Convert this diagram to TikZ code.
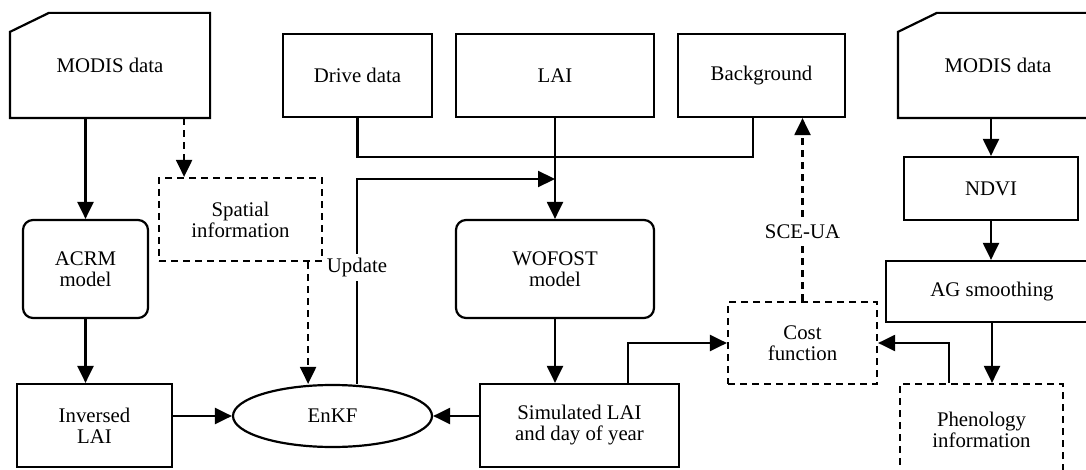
\documentclass[tikz,border=0pt]{standalone}
\usepackage{fontspec}
\setmainfont{Liberation Serif}
\usetikzlibrary{shapes.geometric, arrows.meta, positioning, calc}
\tikzset{
    box/.style={rectangle, draw, line width=1.1pt, inner sep=0pt, align=center, font=\fontsize{10.4}{10.5}\selectfont},
    arrow/.style={line width=1.1pt, -{Triangle[length=8.5pt, width=8pt]}}
}

\begin{document}
\begin{tikzpicture}[
    x=0.5pt, y=-0.5pt,
    databox/.style={box, draw=none, minimum width=99pt, minimum height=51.5pt},
    modelbox/.style={box, rounded corners=5pt},
    dashbox/.style={box, dash pattern=on 3.5pt off 2.5pt},
    dasharrow/.style={arrow, dash pattern=on 3.5pt off 2.5pt},
    filterbox/.style={ellipse, draw, line width=1.1pt, inner sep=0pt, minimum width=99.5pt, minimum height=31pt, font=\fontsize{10.4}{10.5}\selectfont},
    lbl/.style={fill=white, inner sep=2pt, font=\fontsize{10.4}{10.5}\selectfont}
]
    \clip (0,0) rectangle (1086,470);

    % MODIS inputs (cut-corner data boxes)
    \node (modisL) [databox] at (110,65.5) {MODIS data};
    \node (modisR) [databox] at (998,65.5) {MODIS data};
    \foreach \n in {modisL, modisR}
        \draw[line width=1.1pt] (\n.south west) -- ($(\n.north west)+(0,19)$) -- ($(\n.north west)+(39,0)$)
            -- (\n.north east) -- (\n.south east) -- cycle;

    % Crop model inputs
    \node (drive) [box, minimum width=74.5pt, minimum height=41.5pt] at (357.5,75.5) {Drive data};
    \node (lai) [box, minimum width=99pt, minimum height=41.5pt] at (555,75.5) {LAI};
    \node (background) [box, minimum width=83.5pt, minimum height=41.5pt] at (761.5,75.5) {Background};

    % Left branch: inversion
    \node (spatial) [dashbox, minimum width=81.5pt, minimum height=41.5pt] at (240.5,219.5) {Spatial\\information};
    \node (acrm) [modelbox, minimum width=62.5pt, minimum height=49pt] at (85.5,269) {ACRM\\model};
    \node (inversed) [box, minimum width=77.5pt, minimum height=41.5pt] at (94.5,425.5) {Inversed\\LAI};

    % Assimilation
    \node (enkf) [filterbox] at (332.5,416) {EnKF};
    \node (wofost) [modelbox, minimum width=99pt, minimum height=49pt] at (555,269) {WOFOST\\model};
    \node (simulated) [box, minimum width=99.5pt, minimum height=41.5pt] at (579.5,425.5) {Simulated LAI\\and day of year};
    \node (cost) [dashbox, minimum width=74.5pt, minimum height=41pt] at (802.5,343) {Cost\\function};

    % Right branch: phenology
    \node (ndvi) [box, minimum width=87pt, minimum height=31.5pt] at (991,188.5) {NDVI};
    \node (smoothing) [box, minimum width=106pt, minimum height=30.5pt] at (992,291.5) {AG smoothing};
    \node (phenology) [dashbox, minimum width=81.5pt, minimum height=46pt] at (981.5,430) {Phenology\\information};

    % helper points for the elbow lines
    \coordinate (bend) at (753,157);
    \coordinate (upd) at (357,179);

    % Flow arrows
    \draw [arrow] (acrm.north |- modisL.south) -- (acrm.north);
    \draw [dasharrow] ($(modisL.south east)+(-26,0)$) coordinate (sp) -- (sp |- spatial.north);
    \draw [arrow] (acrm.south) -- (acrm.south |- inversed.north);
    \draw [arrow] (enkf.west -| inversed.east) -- (enkf.west);
    \draw [dasharrow] ($(spatial.south east)+(-15,0)$) coordinate (se) -- (se |- enkf.north);

    \draw [line width=1.1pt] (drive.south) |- (bend) -- (bend |- background.south);
    \draw [arrow] (lai.south) -- (wofost.north);
    \draw [arrow] (upd |- enkf.north) -- node[lbl, pos=0.57] {Update} (upd) -- (upd -| lai.south);
    \draw [arrow] (wofost.south) -- (wofost.south |- simulated.north);
    \draw [arrow] (simulated.west |- enkf.east) -- (enkf.east);
    \draw [arrow] ($(simulated.north west)+(149,0)$) |- (cost.west);
    \draw [dasharrow] (cost.north) -- node[lbl, pos=0.38] {SCE-UA} (cost.north |- background.south);

    \draw [arrow] (ndvi.north |- modisR.south) -- (ndvi.north);
    \draw [arrow] (ndvi.south) -- (ndvi.south |- smoothing.north);
    \draw [arrow] (smoothing.south) -- (smoothing.south |- phenology.north);
    \draw [arrow] ($(phenology.north west)+(50,0)$) |- (cost.east);

\end{tikzpicture}
\end{document}
